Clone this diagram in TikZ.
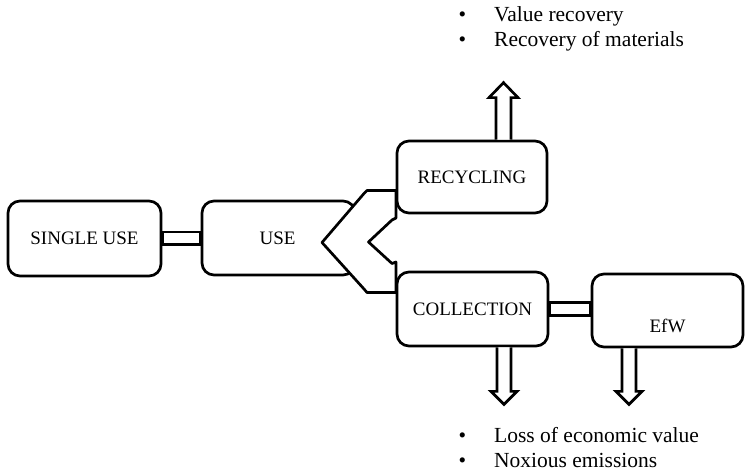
\documentclass[tikz,border=0pt]{standalone}
\usepackage{fontspec}
\setmainfont{Liberation Serif}
\usetikzlibrary{calc}
\tikzset{
  box/.style={draw, line width=2.7pt, rounded corners=12pt, fill=white,
    font=\fontsize{19}{21}\selectfont, inner sep=0pt},
  pipe/.style={draw, line width=2.7pt, fill=white, line join=miter},
  bul/.style={anchor=base west, inner sep=0pt, font=\fontsize{21.5}{25}\selectfont},
  lbl/.style={inner sep=0pt, font=\fontsize{19}{21}\selectfont},
}
\newcommand{\bitem}[1]{\makebox[35.5pt][l]{•}#1}
\begin{document}
\begin{tikzpicture}[x=1pt,y=-1pt]
\useasboundingbox (0,0) rectangle (747,476);

% boxes on the left
\node[box, minimum width=153pt, minimum height=75pt] (single) at (84.5,238.5) {SINGLE USE};
\node[box, minimum width=153pt, minimum height=74pt] (use) at (278.5,238) {\hspace*{-2pt}USE};

% pipe single -> use
\draw[pipe] ($(single.east)+(0,-6.5)$) rectangle ($(use.west)+(0,6.5)$);

% split (chevron) connector from use to recycling / collection
\draw[pipe, line join=round] (396,190.5) -- (367,190.5) -- (364,193.5) -- (322,242.5)
  -- (364,289) -- (367,292.5) -- (396,292.5) -- (396,262) -- (392,263.5)
  -- (368.5,242) -- (392,220) -- (396,218) -- cycle;

% right boxes
\node[box, minimum width=150pt, minimum height=72pt] (recycling) at (472,177) {RECYCLING};
\node[box, minimum width=151pt, minimum height=74pt] (collection) at (472.5,309) {COLLECTION};
\node[box, minimum width=151pt, minimum height=73pt] (efw) at (667.5,310.5) {};
\node[lbl] (efwtext) at ($(efw.center)+(0,15)$) {EfW};

% pipe collection -> efw
\draw[pipe] ($(collection.east)+(0,-6.5)$) rectangle ($(efw.west |- collection.east)+(0,6.5)$);

% up arrow from recycling
\coordinate (ru) at ($(recycling.north)+(31.5,0)$);
\draw[pipe] ($(ru)+(-7.5,0)$) -- ($(ru)+(-7.5,-42)$) -- ($(ru)+(-14.5,-42)$)
  -- ($(ru)+(0,-57)$) -- ($(ru)+(14.5,-42)$) -- ($(ru)+(7.5,-42)$) -- ($(ru)+(7.5,0)$);

% down arrow from collection
\coordinate (cd) at ($(collection.south)+(31.5,0)$);
\draw[pipe] ($(cd)+(-7,0)$) -- ($(cd)+(-7,44)$) -- ($(cd)+(-13,44)$)
  -- ($(cd)+(0,57)$) -- ($(cd)+(13,44)$) -- ($(cd)+(7,44)$) -- ($(cd)+(7,0)$);

% down arrow from efw
\coordinate (ed) at ($(efw.south)+(-38.5,0)$);
\draw[pipe] ($(ed)+(-7,0)$) -- ($(ed)+(-7,43)$) -- ($(ed)+(-13,43)$)
  -- ($(ed)+(0,56)$) -- ($(ed)+(13,43)$) -- ($(ed)+(7,43)$) -- ($(ed)+(7,0)$);

% bullet texts
\node[bul] (t1) at (458.5,22) {\bitem{Value recovery}};
\node[bul] (t2) at (458.5,47) {\bitem{Recovery of materials}};
\node[bul] (b1) at (458.5,442) {\bitem{Loss of economic value}};
\node[bul] (b2) at (458.5,467) {\bitem{Noxious emissions}};
\end{tikzpicture}
\end{document}
